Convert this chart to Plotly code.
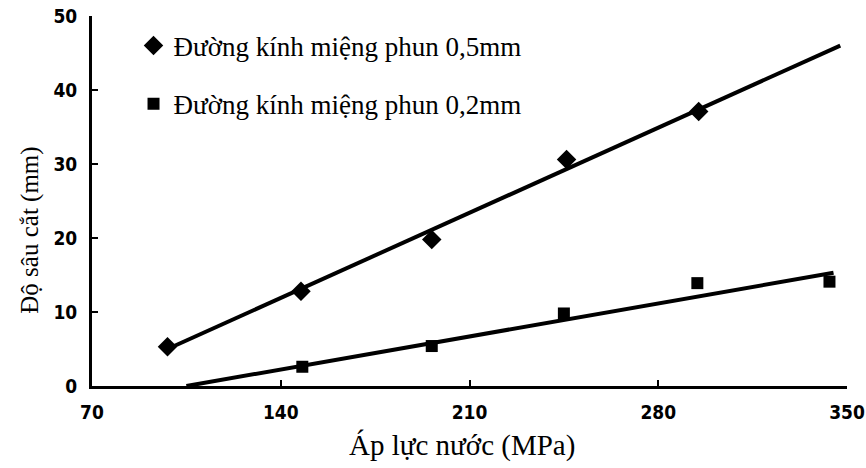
import plotly.graph_objects as go

x_05 = [98, 147.5, 196, 246, 295]
y_05 = [5.3, 12.8, 19.8, 30.6, 37.1]
x_02 = [148, 196, 245, 294.5, 343.5]
y_02 = [2.6, 5.4, 9.8, 13.9, 14.1]

# Fitted trend lines (end points)
fit_x_05 = [98, 347.5]
fit_y_05 = [5.0, 46.0]
fit_x_02 = [105, 345]
fit_y_02 = [0.0, 15.3]

x_ticks = [70, 140, 210, 280, 350]
y_ticks = [0, 10, 20, 30, 40, 50]

name_05 = "Đường kính miệng phun 0,5mm"
name_02 = "Đường kính miệng phun 0,2mm"
x_title = "Áp lực nước (MPa)"
y_title = "Độ sâu cắt (mm)"

fig = go.Figure()
fig.add_trace(go.Scatter(x=fit_x_05, y=fit_y_05, mode="lines",
                         line=dict(color="black", width=4), showlegend=False))
fig.add_trace(go.Scatter(x=fit_x_02, y=fit_y_02, mode="lines",
                         line=dict(color="black", width=4), showlegend=False))
fig.add_trace(go.Scatter(x=x_05, y=y_05, mode="markers", name=name_05,
                         legendgroup="a",
                         marker=dict(symbol="diamond", size=15, color="black")))
fig.add_trace(go.Scatter(x=x_02, y=y_02, mode="markers", name=name_02,
                         legendgroup="b",
                         marker=dict(symbol="square", size=12, color="black")))

bold_font = dict(family="DejaVu Sans Condensed, Liberation Sans",
                 size=19, color="black", weight="bold")
serif = "Liberation Serif"

fig.update_layout(
    width=866, height=468,
    margin=dict(l=92, r=19, t=16, b=82, autoexpand=False),
    paper_bgcolor="white", plot_bgcolor="white",
    font=dict(family=serif, color="black"),
    legend=dict(x=0.055, y=0.985, xanchor="left", yanchor="top",
                font=dict(family=serif, size=27, color="black"),
                tracegroupgap=20, bgcolor="rgba(0,0,0,0)",
                itemwidth=30),
    xaxis=dict(range=[70, 350], tickvals=x_ticks, showgrid=False, zeroline=False,
               showline=True, linecolor="black", linewidth=3, automargin=False,
               ticks="inside", ticklen=6, tickwidth=2, tickcolor="black",
               tickfont=bold_font, ticklabelstandoff=7, ticklabeloverflow="allow"),
    yaxis=dict(range=[0, 50], tickvals=y_ticks, showgrid=False, zeroline=False,
               showline=True, linecolor="black", linewidth=3, automargin=False,
               ticks="inside", ticklen=6, tickwidth=2, tickcolor="black",
               tickfont=bold_font, ticklabelstandoff=8, ticklabeloverflow="allow"),
    annotations=[
        dict(text=x_title, xref="paper", yref="paper", x=0.49, y=-0.16,
             xanchor="center", yanchor="middle", showarrow=False,
             font=dict(family=serif, size=29, color="black")),
        dict(text=y_title, xref="paper", yref="paper", x=-0.082, y=0.42,
             xanchor="center", yanchor="middle", showarrow=False, textangle=-90,
             font=dict(family=serif, size=25, color="black")),
    ],
)

fig.write_html("out.html", config={"displayModeBar": False},
               post_script="document.body.style.margin='0';")
